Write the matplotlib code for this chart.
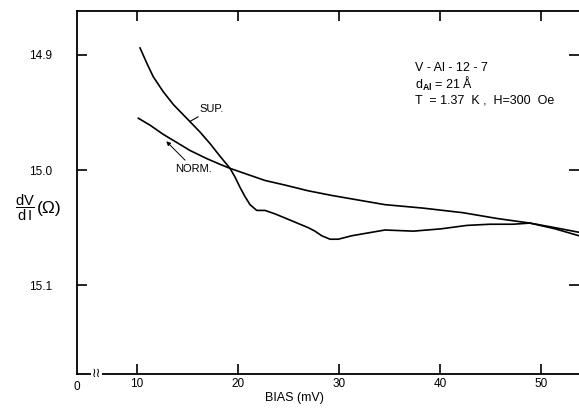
import matplotlib
matplotlib.use("Agg")
import matplotlib.pyplot as plt
from matplotlib.transforms import blended_transform_factory

plt.rcParams['font.family'] = ['Liberation Sans', 'DejaVu Sans']
plt.rcParams['mathtext.fontset'] = 'custom'
plt.rcParams['mathtext.rm'] = 'Liberation Sans'
plt.rcParams['mathtext.it'] = 'Liberation Sans'
plt.rcParams['mathtext.bf'] = 'Liberation Sans:bold'

# ---- data ----
sup_bias = [10.30, 10.96, 11.61, 12.60, 13.59, 14.58, 15.25, 16.24, 17.23, 18.22,
            19.21, 19.70, 20.20, 20.69, 21.19, 21.85, 22.67, 23.66, 25.32, 26.96,
            27.62, 28.29, 29.11, 29.93, 31.26, 32.57, 33.89, 34.55, 37.36, 40.10,
            42.67, 44.95, 47.23, 48.90, 51.40, 53.76]
sup_dvdi = [14.894, 14.907, 14.919, 14.932, 14.943, 14.952, 14.958, 14.967, 14.977, 14.988,
            14.9985, 15.006, 15.015, 15.023, 15.030, 15.035, 15.035, 15.038, 15.044, 15.050,
            15.053, 15.057, 15.060, 15.060, 15.057, 15.055, 15.053, 15.052, 15.053, 15.051,
            15.048, 15.047, 15.047, 15.046, 15.050, 15.054]

norm_bias = [10.13, 11.29, 12.60, 13.93, 15.25, 16.90, 18.22, 19.21, 20.69, 22.67,
             24.65, 26.96, 29.28, 31.91, 34.55, 38.32, 42.28, 45.64, 48.90, 51.40, 53.76]
norm_dvdi = [14.955, 14.961, 14.969, 14.976, 14.983, 14.990, 14.995, 14.9985, 15.003, 15.009,
             15.013, 15.018, 15.022, 15.026, 15.030, 15.033, 15.037, 15.042, 15.046, 15.051, 15.057]

x_ticks = [10, 20, 30, 40, 50]
x_tick_labels = ['10', '20', '30', '40', '50']
y_ticks = [14.9, 15.0, 15.1]
y_tick_labels = ['14.9', '15.0', '15.1']

fig = plt.figure(figsize=(5.79, 4.11), dpi=100)
ax = fig.add_axes([0.133, 0.09, 0.867, 0.883])

ax.plot(sup_bias, sup_dvdi, color='black', lw=1.2, solid_joinstyle='round')
ax.plot(norm_bias, norm_dvdi, color='black', lw=1.2, solid_joinstyle='round')

ax.set_xlim(4.06, 53.76)
ax.set_ylim(15.177, 14.862)

ax.spines['right'].set_visible(False)
for s in ['left', 'top', 'bottom']:
    ax.spines[s].set_linewidth(1.3)

ax.set_xticks(x_ticks)
ax.set_xticklabels(x_tick_labels)
ax.set_yticks(y_ticks)
ax.set_yticklabels(y_tick_labels)
ax.tick_params(axis='both', direction='in', length=7, width=1.2, labelsize=8.5,
               top=True, right=True, left=True, bottom=True, pad=3)
ax.tick_params(axis='y', pad=18)

# "0" at the axis origin and axis break
trans = blended_transform_factory(ax.transData, ax.transAxes)
ax.text(0.0, -0.018, '0', transform=ax.transAxes, ha='center', va='top', fontsize=8.5)
ax.text(6.0, 0.0, '\u2240\u2240', transform=trans, ha='center', va='center',
        fontsize=9, bbox=dict(facecolor='white', edgecolor='none', pad=0.5))

# curve labels
ax.annotate('SUP.', xy=(15.2, 14.958), xytext=(16.2, 14.947),
            fontsize=8, ha='left', va='center',
            arrowprops=dict(arrowstyle='-', color='black', lw=0.8, shrinkA=0, shrinkB=0))
ax.annotate('NORM.', xy=(12.9, 14.975), xytext=(13.8, 14.999),
            fontsize=8, ha='left', va='center',
            arrowprops=dict(arrowstyle='-|>', color='black', lw=0.7, shrinkA=1, shrinkB=0,
                            mutation_scale=6))

# info block
ax.text(37.5, 14.911, 'V - Al - 12 - 7', fontsize=9, ha='left', va='center')
ax.text(37.5, 14.925, r'd$_{\mathbf{Al}}$ = 21 Å', fontsize=9, ha='left', va='center')
ax.text(37.5, 14.940, 'T  = 1.37  K ,  H=300  Oe', fontsize=9, ha='left', va='center')

# axis labels
fig.text(0.508, 0.031, 'BIAS (mV)', ha='center', va='center', fontsize=9)
fig.text(0.026, 0.494, r'$\dfrac{\mathrm{dV}}{\mathrm{d\,I}}$', ha='left', va='center',
         fontsize=10.5)
fig.text(0.064, 0.492, '(Ω)', ha='left', va='center', fontsize=12.5)

fig.savefig('out.png', dpi=100)
